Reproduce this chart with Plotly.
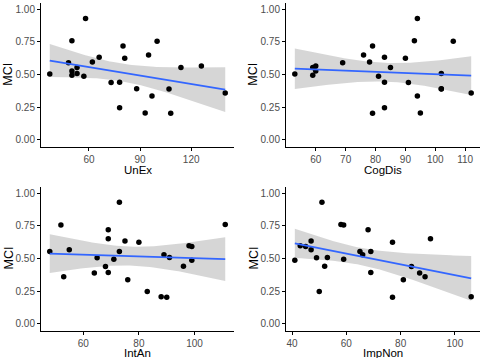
import numpy as np
import plotly.graph_objects as go

# ---- data ----
unex_x = [37, 48, 50, 50, 50, 53, 53, 57, 58, 62, 66, 73, 78, 78, 80, 81, 88, 93, 95, 97, 100, 107, 108, 114, 126, 140]
unex_y = [0.505, 0.592, 0.760, 0.528, 0.495, 0.554, 0.508, 0.487, 0.929, 0.597, 0.633, 0.439, 0.441, 0.247, 0.719, 0.625,
          0.393, 0.207, 0.651, 0.337, 0.755, 0.390, 0.204, 0.554, 0.566, 0.360]

cogdis_x = [53, 59, 59, 60, 60, 69, 76, 78, 79, 79, 81, 83, 83, 83, 85, 90, 91, 93, 94, 94, 95, 102, 102, 102, 106, 112]
cogdis_y = [0.505, 0.495, 0.554, 0.566, 0.528, 0.592, 0.651, 0.597, 0.719, 0.204, 0.487, 0.633, 0.441, 0.247, 0.554, 0.625,
            0.439, 0.760, 0.929, 0.337, 0.207, 0.508, 0.390, 0.393, 0.755, 0.360]

intan_x = [48, 52, 53, 55, 64, 65, 68, 69, 69, 69, 71, 73, 73, 75, 76, 80, 83, 88, 89, 90, 91, 96, 98, 99, 99, 111]
intan_y = [0.554, 0.755, 0.360, 0.566, 0.390, 0.505, 0.439, 0.719, 0.651, 0.393, 0.495, 0.929, 0.554, 0.633, 0.337, 0.625,
           0.247, 0.207, 0.528, 0.204, 0.508, 0.441, 0.597, 0.592, 0.487, 0.760]

impnon_x = [41, 43, 45, 47, 47, 49, 50, 51, 52, 53, 58, 59, 59, 65, 66, 68, 69, 69, 77, 77, 81, 84, 87, 89, 91, 106]
impnon_y = [0.487, 0.597, 0.592, 0.633, 0.566, 0.505, 0.247, 0.929, 0.441, 0.508, 0.760, 0.755, 0.495, 0.554, 0.528, 0.719,
            0.554, 0.393, 0.625, 0.204, 0.337, 0.439, 0.390, 0.360, 0.651, 0.207]

x_labels = ["UnEx", "CogDis", "IntAn", "ImpNon"]
x_dticks = [30, 10, 20, 20]
y_ticks = [0.0, 0.25, 0.5, 0.75, 1.0]
y_ticktext = ["0.00", "0.25", "0.50", "0.75", "1.00"]
y_label = "MCI"

panels = [(unex_x, unex_y), (cogdis_x, cogdis_y), (intan_x, intan_y), (impnon_x, impnon_y)]

W, H = 481, 358
# plot areas in pixels (left, right, top, bottom)
boxes = [(41, 234, 2.8, 146.5), (286, 480, 2.8, 146.5), (41, 234, 186.5, 330.5), (286, 480, 186.5, 330.5)]
title_offsets = [23.5, 23.5, 22.0, 22.0]

T975 = {23: 2.0687, 24: 2.0639, 25: 2.0595}


def lm_band(x, y, n=80):
    x = np.asarray(x, float)
    y = np.asarray(y, float)
    b1, b0 = np.polyfit(x, y, 1)
    res = y - (b0 + b1 * x)
    df = len(x) - 2
    s = np.sqrt(np.sum(res ** 2) / df)
    xg = np.linspace(x.min(), x.max(), n)
    fit = b0 + b1 * xg
    se = s * np.sqrt(1 / len(x) + (xg - x.mean()) ** 2 / np.sum((x - x.mean()) ** 2))
    t = T975.get(df, 2.06)
    return xg, fit, fit - t * se, fit + t * se


fig = go.Figure()
font_fam = "Liberation Sans, Arial, sans-serif"
layout = {}
annotations = []

for i, ((px, py), box) in enumerate(zip(panels, boxes)):
    k = "" if i == 0 else str(i + 1)
    xa, ya = "x" + k, "y" + k
    xg, fit, lo, hi = lm_band(px, py)
    fig.add_trace(go.Scatter(x=list(xg) + list(xg[::-1]), y=list(hi) + list(lo[::-1]), fill="toself",
                             fillcolor="rgba(153,153,153,0.4)", line=dict(width=0), mode="lines",
                             hoverinfo="skip", showlegend=False, xaxis=xa, yaxis=ya))
    fig.add_trace(go.Scatter(x=px, y=py, mode="markers", marker=dict(color="black", size=5.5),
                             showlegend=False, xaxis=xa, yaxis=ya))
    fig.add_trace(go.Scatter(x=xg, y=fit, mode="lines", line=dict(color="#3366FF", width=1.8),
                             showlegend=False, xaxis=xa, yaxis=ya))

    l, r, t, b = box
    span = max(px) - min(px)
    xr = [min(px) - 0.05 * span, max(px) + 0.05 * span]
    common = dict(showline=True, linecolor="black", linewidth=1, ticks="outside", ticklen=3, tickwidth=1,
                  tickcolor="black", showgrid=False, zeroline=False,
                  tickfont=dict(family=font_fam, size=10, color="#4D4D4D"))
    layout["xaxis" + k] = dict(domain=[l / W, r / W], anchor=ya, range=xr, dtick=x_dticks[i], **common)
    layout["yaxis" + k] = dict(domain=[1 - b / H, 1 - t / H], anchor=xa, range=[-0.05, 1.05],
                               tickvals=y_ticks, ticktext=y_ticktext, **common)
    annotations.append(dict(text=x_labels[i], x=(l + r) / 2 / W, y=1 - (b + title_offsets[i]) / H,
                            xref="paper", yref="paper",
                            showarrow=False, xanchor="center", yanchor="middle",
                            font=dict(family=font_fam, size=11.5, color="black")))
    annotations.append(dict(text=y_label, x=(l - 33) / W, y=1 - (t + b) / 2 / H, xref="paper", yref="paper",
                            showarrow=False, xanchor="center", yanchor="middle", textangle=-90,
                            font=dict(family=font_fam, size=12.5, color="black")))

fig.update_layout(width=W, height=H, margin=dict(l=0, r=0, t=0, b=0), paper_bgcolor="white",
                  plot_bgcolor="white", annotations=annotations, **layout)
fig.write_html("out.html")
